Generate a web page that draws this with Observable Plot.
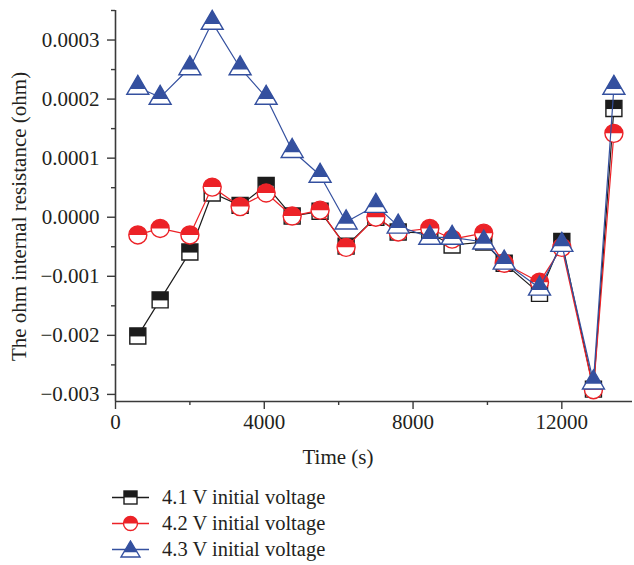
<!DOCTYPE html>
<html><head><meta charset="utf-8">
<script src="https://cdn.jsdelivr.net/npm/d3@7"></script>
<script src="https://cdn.jsdelivr.net/npm/@observablehq/plot@0.6"></script>
<style>
body{margin:0;background:#fff;font-family:"Liberation Serif",serif;}
#legend{margin-left:111px;margin-top:14px;}
.row{display:flex;align-items:center;height:26px;font-size:20.5px;color:#231f20;}
.row svg{margin-right:12px;}
</style></head><body><div id="chart"></div><div id="legend"></div>
<script>
// y values are positions along the axis, measured in tick steps (see tick labels)
const time = [600,1200,2000,2600,3350,4050,4750,5500,6200,7000,7600,8450,9050,9900,10450,11400,12000,12850,13400];
const v41 = [-2.01,-1.40,-0.59,0.41,0.20,0.54,0.02,0.10,-0.49,0.00,-0.25,-0.27,-0.47,-0.42,-0.78,-1.29,-0.41,-2.91,1.84];
const v42 = [-0.30,-0.19,-0.30,0.51,0.18,0.41,0.02,0.12,-0.51,0.00,-0.25,-0.19,-0.37,-0.27,-0.78,-1.10,-0.51,-2.92,1.42];
const v43 = [2.20,2.03,2.53,3.30,2.53,2.03,1.13,0.71,-0.08,0.20,-0.15,-0.34,-0.34,-0.42,-0.76,-1.20,-0.46,-2.79,2.20];
const seriesNames = ["4.1 V initial voltage","4.2 V initial voltage","4.3 V initial voltage"];
const seriesColors = ["#1c1c1c","#ec2227","#34509f"];
const yTickPos = [-3,-2,-1,0,1,2,3];
const yTickLabels = ["\u22120.003","\u22120.002","\u22120.001","0.0000","0.0001","0.0002","0.0003"];
const yMinor = [-2.5,-1.5,-0.5,0.5,1.5,2.5,3.5];
const xTicks = [0,4000,8000,12000];
const xMinor = [2000,6000,10000];
const xLabel = "Time (s)";
const yLabel = "The ohm internal resistance (ohm)";

const squareFull = {draw(c){c.rect(-8,-8,16,16);}};
const squareTop = {draw(c){c.rect(-8,-8,16,8.5);}};
const circleFull = {draw(c){c.moveTo(9,0);c.arc(0,0,9,0,2*Math.PI);}};
const circleTop = {draw(c){c.moveTo(-9,0);c.arc(0,0,9,Math.PI,2*Math.PI);c.closePath();}};
const triFull = {draw(c){c.moveTo(0,-12);c.lineTo(11,7);c.lineTo(-11,7);c.closePath();}};
const triTop = {draw(c){c.moveTo(0,-12);c.lineTo(7.9,1.8);c.lineTo(-7.9,1.8);c.closePath();}};
const fulls = [squareFull, circleFull, triFull];
const tops = [squareTop, circleTop, triTop];

const allSeries = [v41, v42, v43].map(vals => time.map((t,i)=>({t, v: vals[i]})));

const marks = [];
allSeries.forEach((data, k) => {
  marks.push(Plot.line(data, {x:"t", y:"v", stroke: seriesColors[k], strokeWidth: 1.2}));
  marks.push(Plot.dot(data, {x:"t", y:"v", symbol: fulls[k], r: 8, fill:"white", stroke: seriesColors[k], strokeWidth: 1.4}));
  marks.push(Plot.dot(data, {x:"t", y:"v", symbol: tops[k], r: 8, fill: seriesColors[k], stroke: "none"}));
});

const plot = Plot.plot({
  width: 634, height: 470,
  marginLeft: 115, marginRight: 2, marginTop: 10, marginBottom: 69,
  style: {fontFamily: "Liberation Serif, serif", fontSize: "21px", color: "#231f20", background: "white"},
  x: {domain: [0, 13900]},
  y: {domain: [-3.12, 3.5]},
  marks: [
    Plot.ruleX([0], {stroke: "#3a3a3a", strokeWidth: 1.6}),
    Plot.ruleY([-3.12], {stroke: "#3a3a3a", strokeWidth: 1.6}),
    Plot.axisX({ticks: xTicks, tickSize: 8, tickPadding: 5, stroke:"#3a3a3a", strokeWidth:1.4, tickFormat: d=>String(d), label: null, fontSize: 21, fill: "#231f20"}),
    Plot.axisX({ticks: xMinor, tickSize: 4, stroke:"#3a3a3a", strokeWidth:1.4, tickFormat: () => "", label: null}),
    Plot.axisY({ticks: yTickPos, tickSize: 8, tickPadding: 8, stroke:"#3a3a3a", strokeWidth:1.4, tickFormat: d => yTickLabels[yTickPos.indexOf(d)], label: null, fontSize: 21, fill: "#231f20"}),
    Plot.axisY({ticks: yMinor, tickSize: 4, stroke:"#3a3a3a", strokeWidth:1.4, tickFormat: () => "", label: null}),
    Plot.text([xLabel], {text: d => d, frameAnchor: "bottom", dx: -36, dy: 56, lineAnchor: "middle", fontSize: 21, fill: "#231f20"}),
    Plot.text([yLabel], {text: d => d, frameAnchor: "left", rotate: -90, dx: -96, dy: 10.5, lineAnchor: "middle", textAnchor: "middle", fontSize: 21, fill: "#231f20"}),
    ...marks
  ]
});
document.getElementById("chart").appendChild(plot);

const legendPaths = [
  '<rect x="13" y="3" width="13" height="13" fill="white" stroke="C" stroke-width="1.4"/><rect x="13" y="3" width="13" height="6.5" fill="C"/>',
  '<circle cx="19.5" cy="9.5" r="7" fill="white" stroke="C" stroke-width="1.4"/><path d="M12.5,9.5 A7,7 0 0 1 26.5,9.5 Z" fill="C"/>',
  '<path d="M19.5,1 L29,17 L10,17 Z" fill="white" stroke="C" stroke-width="1.4"/><path d="M19.5,1 L26.1,12.2 L12.9,12.2 Z" fill="C"/>'
];
const legend = document.getElementById("legend");
seriesNames.forEach((name, k) => {
  const row = document.createElement("div");
  row.className = "row";
  const c = seriesColors[k];
  row.innerHTML = `<svg width="39" height="19"><line x1="1" x2="38" y1="9.5" y2="9.5" stroke="${c}" stroke-width="1.3"/>${legendPaths[k].replace(/C/g, c)}</svg><span>${name}</span>`;
  legend.appendChild(row);
});
</script></body></html>
